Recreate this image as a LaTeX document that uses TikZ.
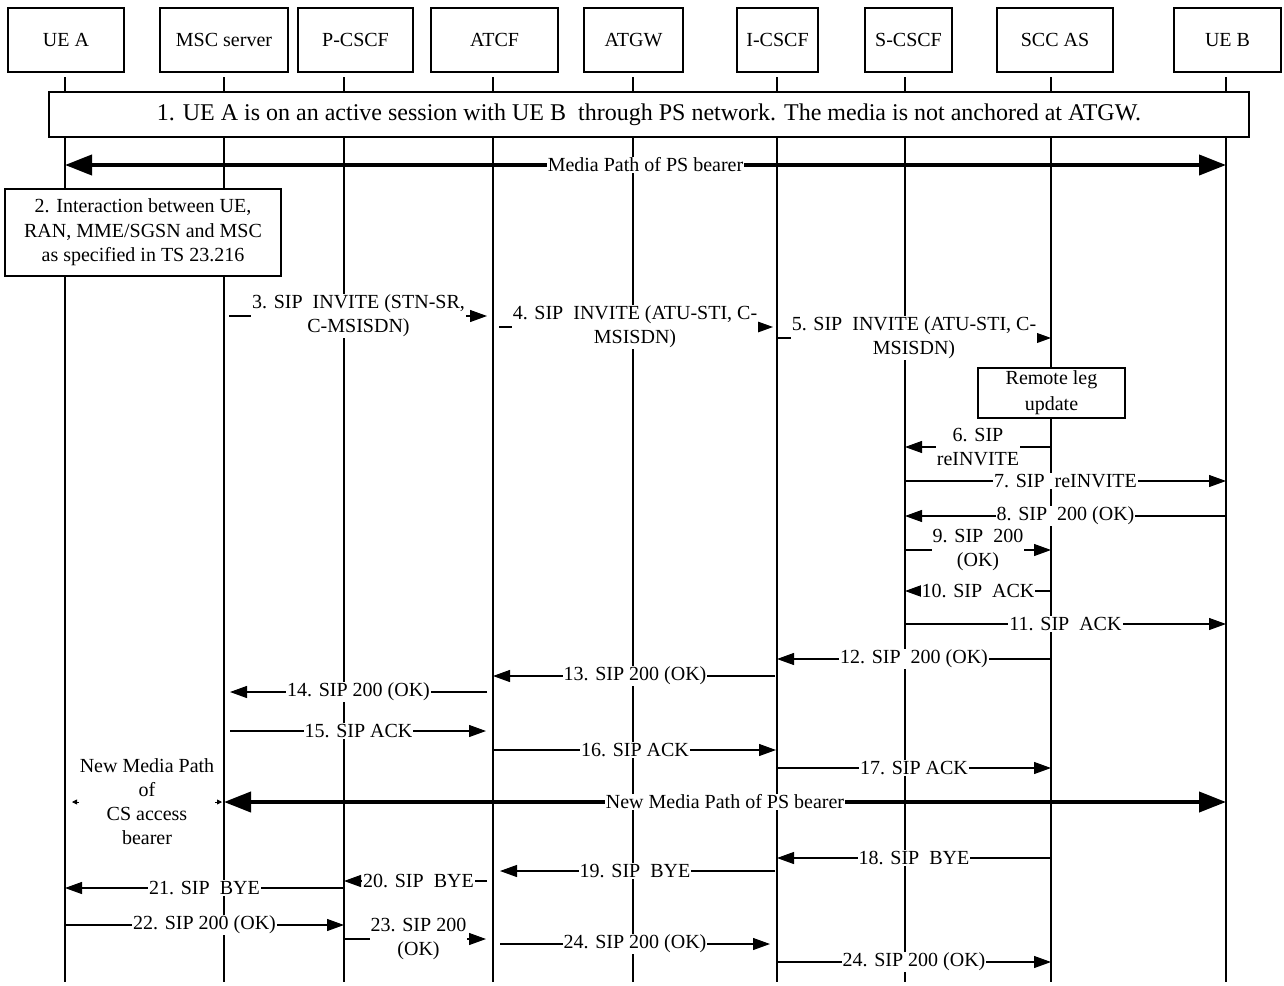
\documentclass[tikz,border=0pt]{standalone}
\usepackage{fontspec}
\setmainfont{Liberation Serif}
\usetikzlibrary{arrows.meta}
\newcommand\sipmsg[5][]{\draw[msg,#1] (#3 |- 0,#2) -- node[lbl]{#5} (#4 |- 0,#2);}
\begin{document}
\begin{tikzpicture}[x=1pt,y=-1pt,
  every node/.style={font=\fontsize{20}{24}\selectfont},
  hdr/.style={draw, line width=1.1pt, fill=white, minimum height=64pt, inner sep=0pt},
  life/.style={line width=1.1pt},
  msg/.style={line width=1.1pt, -{Triangle[length=17pt,width=12pt]}},
  lbl/.style={fill=white, inner sep=1pt, align=center},
  media/.style={line width=4pt, {Triangle[length=27pt,width=20pt]}-{Triangle[length=27pt,width=20pt]}},
  note/.style={draw, line width=1.1pt, fill=white, align=center, inner sep=0pt}]
\useasboundingbox (0,0) rectangle (1284,985);
% header boxes
\node[hdr, minimum width=116pt] (uea) at (66,40) {UE A};
\node[hdr, minimum width=128pt] (msc) at (224,40) {MSC server};
\node[hdr, minimum width=115pt] (pcscf) at (355.5,40) {P-CSCF};
\node[hdr, minimum width=127pt] (atcf) at (494.5,40) {ATCF};
\node[hdr, minimum width=99pt] (atgw) at (633.5,40) {ATGW};
\node[hdr, minimum width=81pt] (icscf) at (777.5,40) {I-CSCF};
\node[hdr, minimum width=87pt] (scscf) at (908.5,40) {S-CSCF};
\node[hdr, minimum width=116pt] (sccas) at (1055,40) {SCC AS};
\node[hdr, minimum width=107pt] (ueb) at (1227.5,40) {UE B};
% lifelines
\coordinate (uea-l) at (65,77);
\coordinate (msc-l) at (224,77);
\coordinate (pcscf-l) at (344,77);
\coordinate (atcf-l) at (493,77);
\coordinate (atgw-l) at (633,77);
\coordinate (icscf-l) at (777,77);
\coordinate (scscf-l) at (905,77);
\coordinate (sccas-l) at (1051,77);
\coordinate (ueb-l) at (1226,77);
\foreach \n in {uea-l,msc-l,pcscf-l,atcf-l,atgw-l,icscf-l,scscf-l,sccas-l,ueb-l}
  \draw[life] (\n) -- (\n |- 0,982);
% step boxes
\node[note, minimum width=1200pt, minimum height=45pt, font=\fontsize{24}{28}\selectfont] (step1) at (649,114.5)
  {1. UE A is on an active session with UE B\ \ through PS network. The media is not anchored at ATGW.};
\draw[media] (uea-l |- 0,165) -- node[lbl, inner sep=0.5pt]{Media Path of PS bearer} (ueb-l |- 0,165);
\node[note, minimum width=276pt, minimum height=87pt, font=\fontsize{20}{24.5}\selectfont] (step2) at (143,232.5)
  {2. Interaction between UE,\\RAN, MME/SGSN and MSC\\as specified in TS 23.216};
% messages
\sipmsg[shorten <=5pt, shorten >=6pt]{316}{msc-l}{atcf-l}{3. SIP\ \ INVITE (STN-SR,\\C-MSISDN)}
\sipmsg[shorten <=6pt, shorten >=4pt]{327}{atcf-l}{icscf-l}{4. SIP\ \ INVITE (ATU-STI, C-\\MSISDN)}
\sipmsg{338}{icscf-l}{sccas-l}{5. SIP\ \ INVITE (ATU-STI, C-\\MSISDN)}
\node[note, minimum width=147pt, minimum height=50pt, font=\fontsize{20}{26}\selectfont] (rlu) at (1051.5,393) {Remote leg\\update};
\sipmsg{447}{sccas-l}{scscf-l}{6. SIP\\reINVITE}
\sipmsg{481}{scscf-l}{ueb-l}{7. SIP\ \ reINVITE}
\sipmsg{516}{ueb-l}{scscf-l}{8. SIP\ \ 200 (OK)}
\sipmsg{550}{scscf-l}{sccas-l}{9. SIP\ \ 200\\(OK)}
\sipmsg{591}{sccas-l}{scscf-l}{10. SIP\ \ ACK}
\sipmsg{624}{scscf-l}{ueb-l}{11. SIP\ \ ACK}
\sipmsg{659}{sccas-l}{icscf-l}{12. SIP\ \ 200 (OK)}
\sipmsg[shorten <=2pt]{676}{icscf-l}{atcf-l}{13. SIP 200 (OK)}
\sipmsg[shorten <=6pt, shorten >=6pt]{692}{atcf-l}{msc-l}{14. SIP 200 (OK)}
\sipmsg[shorten <=6pt, shorten >=7pt]{731}{msc-l}{atcf-l}{15. SIP ACK}
\sipmsg[shorten >=1pt]{750}{atcf-l}{icscf-l}{16. SIP ACK}
\sipmsg{768}{icscf-l}{sccas-l}{17. SIP ACK}
% new media paths
\draw[media] (msc-l |- 0,802) -- node[lbl, inner sep=0.5pt]{New Media Path of PS bearer} (ueb-l |- 0,802);
\coordinate (cs-a) at (72,802);
\coordinate (cs-b) at (222,802);
\draw[line width=0.8pt, {Triangle[length=5pt,width=5pt]}-{Triangle[length=5pt,width=5pt]}] (cs-a) -- node[lbl, inner sep=0.5pt]{New Media Path\\of\\CS access\\bearer} (cs-b);
\sipmsg{858}{sccas-l}{icscf-l}{18. SIP\ \ BYE}
\sipmsg[shorten <=2pt, shorten >=7pt]{871}{icscf-l}{atcf-l}{19. SIP\ \ BYE}
\sipmsg[shorten <=6pt]{881}{atcf-l}{pcscf-l}{20. SIP\ \ BYE}
\sipmsg{888}{pcscf-l}{uea-l}{21. SIP\ \ BYE}
\sipmsg{925}{uea-l}{pcscf-l}{22. SIP 200 (OK)}
\sipmsg[shorten >=7pt]{939}{pcscf-l}{atcf-l}{23. SIP 200\\(OK)}
\sipmsg[shorten <=7pt, shorten >=7pt]{944}{atcf-l}{icscf-l}{24. SIP 200 (OK)}
\sipmsg{962}{icscf-l}{sccas-l}{24. SIP 200 (OK)}
\end{tikzpicture}
\end{document}
